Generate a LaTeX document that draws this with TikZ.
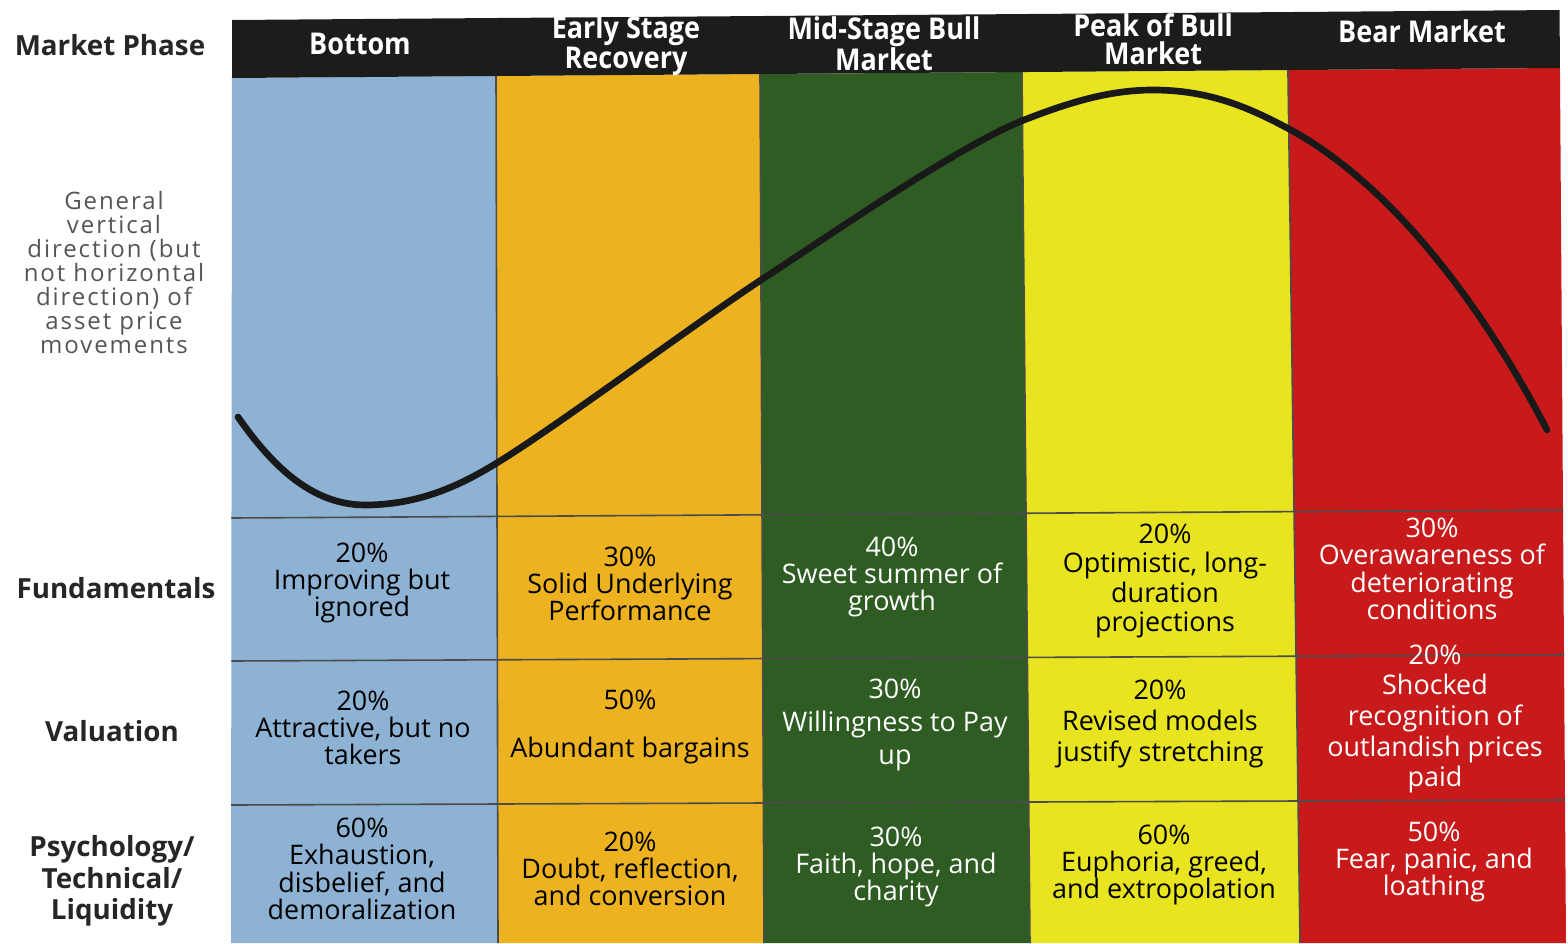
\documentclass[tikz,border=0pt]{standalone}
\usepackage{fontspec}
\setmainfont{Open Sans}
\newfontfamily\headfont[FakeStretch=0.9]{Open Sans}
\newfontfamily\notefont[LetterSpace=8]{Open Sans}

\definecolor{bottomblue}{RGB}{141,178,211}
\definecolor{earlygold}{RGB}{236,178,32}
\definecolor{midgreen}{RGB}{46,92,34}
\definecolor{peakyellow}{RGB}{232,228,32}
\definecolor{bearred}{RGB}{200,26,26}
\definecolor{headblack}{RGB}{28,28,26}
\definecolor{labelgray}{RGB}{85,85,85}

\tikzset{
  cell/.style={align=center, inner sep=0pt, font=\fontsize{20.2}{20.5}\selectfont},
  darkcell/.style={cell, text=white},
  rowlabel/.style={align=center, inner sep=0pt, text=black!85, font=\bfseries\fontsize{20.8}{23.5}\selectfont},
  phase/.style={align=center, inner sep=0pt, text=white, font=\headfont\bfseries\fontsize{22.5}{20.5}\selectfont},
  gridline/.style={draw=black!70, line width=1.2pt},
  pricecurve/.style={line width=5pt, line cap=round, draw=black!90}
}

\begin{document}
\begin{tikzpicture}[x=0.75pt, y=-0.75pt]
\useasboundingbox (0,0) rectangle (1568,943);

% Grid points (the sheet is photographed slightly skewed)
\foreach \i/\xt/\xb in {0/232/231,1/496/498,2/760/764,3/1022/1030,4/1288/1300,5/1560/1566}
  \foreach \j/\yl/\yr in {0/20/10,1/78/68,2/518/510,3/661/655,4/805/800,5/943/943} {
    \pgfmathsetmacro\u{(\xt-232)/1328}
    \pgfmathsetmacro\yy{\yl+(\yr-\yl)*\u}
    \pgfmathsetmacro\v{(\yy-75)/868}
    \pgfmathsetmacro\xx{\xt+(\xb-\xt)*\v}
    \coordinate (g-\i-\j) at (\xx,\yy);
  }

% Phase columns
\foreach \i/\c in {0/bottomblue,1/earlygold,2/midgreen,3/peakyellow,4/bearred} {
  \pgfmathtruncatemacro\n{\i+1}
  \fill[\c] (g-\i-1) -- (g-\n-1) -- (g-\n-5) -- (g-\i-5) -- cycle;
}

% Header band
\fill[headblack] (g-0-0) -- (g-5-0) -- (g-5-1) -- (g-0-1) -- cycle;

% Cell borders
\foreach \j in {2,3,4}
  \draw[gridline] (g-0-\j) -- (g-5-\j);
\foreach \i in {1,2,3,4}
  \draw[gridline] (g-\i-1) -- (g-\i-5);

% Price path: trough, climb, peak, fall
\coordinate (start) at (238,417);
\coordinate (trough) at (368,505);
\coordinate (peaktop) at (1153,90);
\coordinate (finish) at (1547,430);
\draw[pricecurve] (start) .. controls (275,470) and (315,506) .. (trough)
  .. controls (420,504) and (460,486) .. (500,461)
  .. controls (560,424) and (700,320) .. (761,280)
  .. controls (830,235) and (960,145) .. (1024,120)
  .. controls (1070,102) and (1110,90) .. (peaktop)
  .. controls (1210,90) and (1250,108) .. (1291,130)
  .. controls (1400,190) and (1490,320) .. (finish);

% Left labels
\node[rowlabel] (phase-label) at (110,45) {Market Phase};
\node[align=center, inner sep=0pt, text=labelgray, font=\notefont\fontsize{18}{18}\selectfont] (price-label) at (114,272)
  {General\\vertical\\direction (but\\not horizontal\\direction) of\\asset price\\movements};
\node[rowlabel] (fund-label) at (116,588) {Fundamentals};
\node[rowlabel] (val-label) at (112,731) {Valuation};
\node[rowlabel] (psy-label) at (112,881) {Psychology/\\Technical/\\Liquidity};

% Phase headers
\node[phase] (bottom) at (360,44) {Bottom};
\node[phase] (early) at (626,46) {Early Stage\\Recovery};
\node[phase] (mid) at (884,44) {Mid-Stage Bull\\Market};
\node[phase] (peak) at (1153,39) {Peak of Bull\\Market};
\node[phase] (bear) at (1422,31) {Bear Market};

% Fundamentals
\node[cell] (fund-bottom) at (362,583) {20\%\\Improving but\\ignored};
\node[cell] (fund-early) at (630,584) {30\%\\Solid Underlying\\Performance};
\node[darkcell] (fund-mid) at (892,577) {40\%\\Sweet summer of\\growth};
\node[cell, font=\fontsize{20.2}{22}\selectfont] (fund-peak) at (1165,581) {20\%\\Optimistic, long-\\duration\\projections};
\node[darkcell] (fund-bear) at (1432,569) {30\%\\Overawareness of\\deteriorating\\conditions};

% Valuation
\node[cell] (val-bottom) at (363,728) {20\%\\Attractive, but no\\takers};
\node[cell, font=\fontsize{20.2}{36}\selectfont] (val-early) at (630,727) {50\%\\Abundant bargains};
\node[darkcell, font=\fontsize{20.2}{24.5}\selectfont] (val-mid) at (895,725) {30\%\\Willingness to Pay\\up};
\node[cell, font=\fontsize{20.2}{23}\selectfont] (val-peak) at (1160,724) {20\%\\Revised models\\justify stretching};
\node[darkcell, font=\fontsize{20.2}{23}\selectfont] (val-bear) at (1435,719) {20\%\\Shocked\\recognition of\\outlandish prices\\paid};

% Psychology / Technical / Liquidity
\node[cell] (psy-bottom) at (362,869) {60\%\\Exhaustion,\\disbelief, and\\demoralization};
\node[cell] (psy-early) at (630,869) {20\%\\Doubt, reflection,\\and conversion};
\node[darkcell] (psy-mid) at (896,867) {30\%\\Faith, hope, and\\charity};
\node[cell] (psy-peak) at (1164,865) {60\%\\Euphoria, greed,\\and extropolation};
\node[darkcell] (psy-bear) at (1434,862) {50\%\\Fear, panic, and\\loathing};
\end{tikzpicture}
\end{document}
